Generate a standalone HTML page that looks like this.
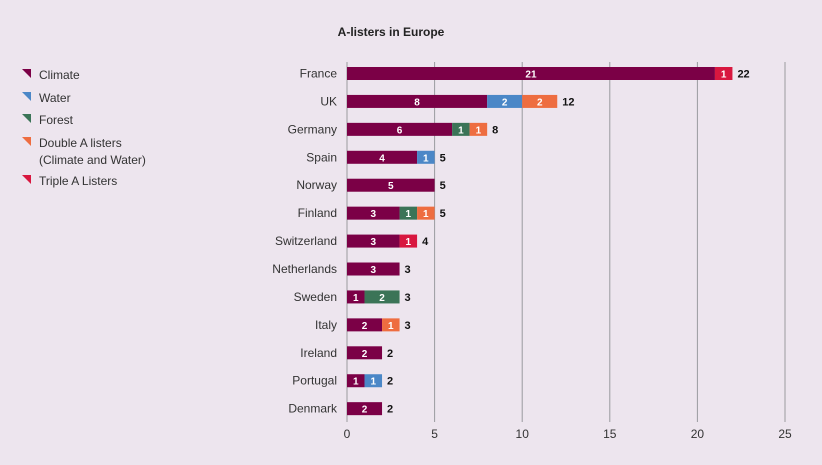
<!DOCTYPE html>
<html><head><meta charset="utf-8"><style>
body{margin:0;background:#ede5ee;font-family:"Liberation Sans",sans-serif;}
svg{display:block}
</style></head><body>
<svg id="c" width="822" height="465">
<text x="391" y="36" font-size="12" font-weight="bold" fill="#222" text-anchor="middle">A-listers in Europe</text>
<g id="legend"></g>
<g id="grid"></g>
<g id="bars"></g>
<g id="xaxis"></g>
</svg>
<script>
const countries=["France","UK","Germany","Spain","Norway","Finland","Switzerland","Netherlands","Sweden","Italy","Ireland","Portugal","Denmark"];
const climate=[21,8,6,4,5,3,3,3,1,2,2,1,2];
const water=[0,2,0,1,0,0,0,0,0,0,0,1,0];
const forest=[0,0,1,0,0,1,0,0,2,0,0,0,0];
const doubleA=[0,2,1,0,0,1,0,0,0,1,0,0,0];
const tripleA=[1,0,0,0,0,0,1,0,0,0,0,0,0];
const xTicks=[0,5,10,15,20,25];
const seriesNames=["Climate","Water","Forest","Double A listers","Triple A Listers"];
const series=[climate,water,forest,doubleA,tripleA];
const colors=["#7b0046","#4b87c7","#3b7457","#ee6d40","#d8173f"];
const NS="http://www.w3.org/2000/svg";
const x=v=>347+v*17.52;
const y=i=>73.5+i*27.93;
function mk(t,a,p){const e=document.createElementNS(NS,t);for(const k in a)e.setAttribute(k,a[k]);p.appendChild(e);return e;}
const grid=document.getElementById('grid'),bars=document.getElementById('bars'),xa=document.getElementById('xaxis'),lg=document.getElementById('legend');
xTicks.forEach(t=>{
 const l=mk('line',{x1:x(t),x2:x(t),y1:62,y2:422,stroke:'#9a9a9f','stroke-width':1},grid);
 
 
 const tx=mk('text',{x:x(t),y:438,'font-size':12,fill:'#333','text-anchor':'middle'},xa);
 tx.textContent=t;
 
 
});
countries.forEach((c,i)=>{
 const lb=mk('text',{x:337,y:y(i)+4,'font-size':12,fill:'#333','text-anchor':'end'},bars);
 lb.textContent=c;
 
 
 let acc=0;
 series.forEach((s,k)=>{
  const v=s[i]; if(!v)return;
  const r=mk('rect',{x:x(acc),y:y(i)-6.5,width:x(acc+v)-x(acc),height:13,fill:colors[k]},bars);
  
  
  const vt=mk('text',{x:(x(acc)+x(acc+v))/2,y:y(i)+4,'font-size':10,'font-weight':'bold',fill:'#fff','text-anchor':'middle'},bars);
  vt.textContent=v;
  
  
  acc+=v;
 });
 const tt=mk('text',{x:x(acc)+5,y:y(i)+4,'font-size':11,'font-weight':'bold',fill:'#111'},bars);
 tt.textContent=acc;
 
 
});
const ly=[75,98,120,143,181];
seriesNames.forEach((n,k)=>{
 const p=mk('polygon',{points:`22,${ly[k]-6} 31,${ly[k]-6} 31,${ly[k]+3}`,fill:colors[k]},lg);
 
 
 const t=mk('text',{x:39,y:ly[k]+4,'font-size':12,fill:'#333'},lg);
 t.textContent=n;
 
 
 if(k==3){const t2=mk('text',{x:39,y:ly[k]+21,'font-size':12,fill:'#333'},lg);t2.textContent="(Climate and Water)";
 
 }
});
</script>
</body></html>
